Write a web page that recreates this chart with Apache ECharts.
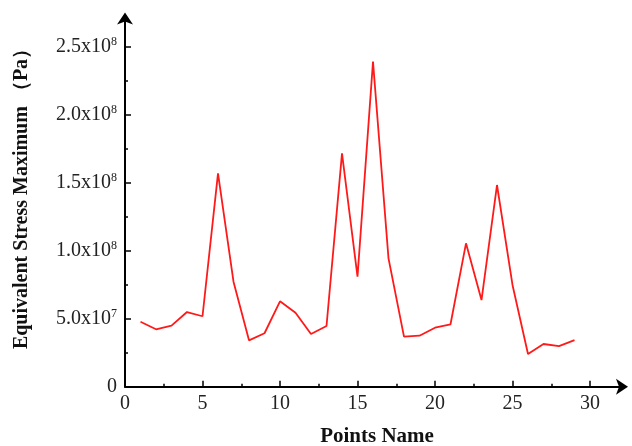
<!DOCTYPE html>
<html>
<head>
<meta charset="utf-8">
<script src="https://cdn.jsdelivr.net/npm/echarts@6/dist/echarts.min.js"></script>
<style>
  html, body { margin: 0; padding: 0; background: #fff; }
  #chart { width: 632px; height: 446px; }
</style>
</head>
<body>
<div id="chart"></div>
<script>
// Maximum equivalent stress at each measuring point
const pointNumbers = [1, 2, 3, 4, 5, 6, 7, 8, 9, 10, 11, 12, 13, 14, 15, 16, 17, 18, 19, 20, 21, 22, 23, 24, 25, 26, 27, 28, 29];
const stressMax = [4.78e7, 4.22e7, 4.49e7, 5.49e7, 5.18e7, 1.569e8, 7.72e7, 3.41e7, 3.93e7, 6.28e7,
                   5.44e7, 3.88e7, 4.46e7, 1.716e8, 8.09e7, 2.39e8, 9.44e7, 3.68e7, 3.75e7, 4.34e7,
                   4.59e7, 1.054e8, 6.37e7, 1.483e8, 7.48e7, 2.40e7, 3.14e7, 2.99e7, 3.43e7];

// Tick positions
const xMajorTicks = [0, 5, 10, 15, 20, 25, 30];
const xMinorTicks = [2.5, 7.5, 12.5, 17.5, 22.5, 27.5];
const yMajorTicks = [0, 5e7, 1e8, 1.5e8, 2e8, 2.5e8];
const yMinorTicks = [2.5e7, 7.5e7, 1.25e8, 1.75e8, 2.25e8];

// Axis titles
const xTitle = 'Points Name';
const yTitle = 'Equivalent Stress Maximum （Pa）';

const xMax = 32;
const yMax = 2.7e8;

const serif = '"Liberation Serif", "Times New Roman", serif';

function sciLabel(v) {
  if (v === 0) return '0';
  const e = Math.floor(Math.log10(v) + 1e-9);
  const m = (v / Math.pow(10, e)).toFixed(1);
  return m + 'x10{sup|' + e + '}';
}

const chart = echarts.init(document.getElementById('chart'), null, { renderer: 'canvas' });

const axisLineStyle = { color: '#000', width: 2 };

chart.setOption({
  animation: false,
  backgroundColor: '#fff',
  grid: { left: 125, top: 19.5, width: xMax * 15.5, height: 367.2, containLabel: false, outerBoundsMode: 'none' },
  graphic: [
    {
      type: 'text', x: 377, y: 436.5,
      style: { text: xTitle, font: 'bold 21px ' + serif, fill: '#111', align: 'center', verticalAlign: 'middle' }
    },
    {
      type: 'text', x: 22, y: 194, rotation: Math.PI / 2,
      style: { text: yTitle, font: 'bold 20px ' + serif, fill: '#111', align: 'center', verticalAlign: 'middle' }
    }
  ],
  xAxis: [
    {
      type: 'value', min: 0, max: xMax,
      axisLine: { show: true, lineStyle: axisLineStyle, symbol: ['none', 'arrow'], symbolSize: [12, 12], symbolOffset: [0, 7] },
      axisTick: { show: true, inside: true, length: 6, lineStyle: { color: '#000', width: 1.5 }, customValues: xMajorTicks },
      axisLabel: { show: true, fontFamily: serif, fontSize: 20, color: '#222', margin: 7, customValues: xMajorTicks },
      splitLine: { show: false }
    },
    {
      type: 'value', min: 0, max: xMax, position: 'bottom',
      axisLine: { show: false },
      axisTick: { show: true, inside: true, length: 3, lineStyle: { color: '#000', width: 1.5 }, customValues: xMinorTicks },
      axisLabel: { show: false },
      splitLine: { show: false }
    }
  ],
  yAxis: [
    {
      type: 'value', min: 0, max: yMax,
      axisLine: { show: true, lineStyle: axisLineStyle, symbol: ['none', 'arrow'], symbolSize: [12, 12], symbolOffset: [0, 7] },
      axisTick: { show: true, inside: true, length: 6, lineStyle: { color: '#000', width: 1.5 }, customValues: yMajorTicks },
      axisLabel: {
        show: true, margin: 8, customValues: yMajorTicks,
        formatter: sciLabel,
        fontFamily: serif, fontSize: 20, color: '#222',
        rich: {
          sup: { fontFamily: serif, fontSize: 12, color: '#222', verticalAlign: 'top', padding: [0, 0, 9, 0] }
        }
      },
      splitLine: { show: false }
    },
    {
      type: 'value', min: 0, max: yMax, position: 'left',
      axisLine: { show: false },
      axisTick: { show: true, inside: true, length: 3, lineStyle: { color: '#000', width: 1.5 }, customValues: yMinorTicks },
      axisLabel: { show: false },
      splitLine: { show: false }
    }
  ],
  series: [{
    type: 'line',
    data: pointNumbers.map((p, i) => [p, stressMax[i]]),
    showSymbol: false,
    lineStyle: { color: '#ff1a1a', width: 1.8 },
    xAxisIndex: 0, yAxisIndex: 0
  }]
});
</script>
</body>
</html>
